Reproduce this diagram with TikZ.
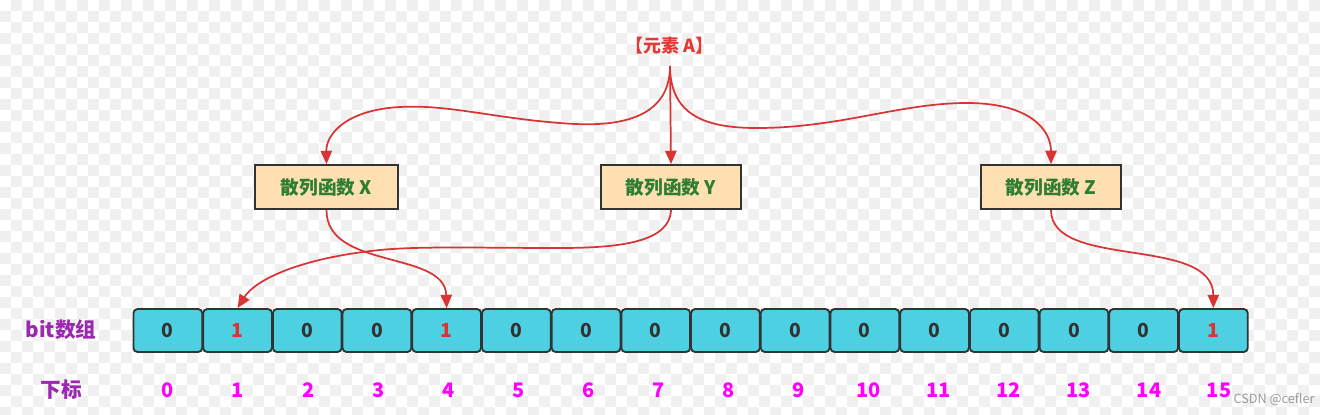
\documentclass[tikz,border=0pt]{standalone}
\usepackage{fontspec}
\setmainfont{Noto Sans CJK SC}
\usetikzlibrary{arrows.meta}
\definecolor{arr}{HTML}{D93434}
\definecolor{chk}{HTML}{F0F0F0}
\definecolor{bord}{HTML}{333333}
\definecolor{hashfill}{HTML}{FFE0B2}
\definecolor{hashtxt}{HTML}{2E7D32}
\definecolor{cellfill}{HTML}{4DD0E1}
\definecolor{lblpurple}{HTML}{9C27B0}
\definecolor{idxmag}{HTML}{FF00FF}
\definecolor{elemred}{HTML}{E53935}
\definecolor{wm}{HTML}{9A9A9A}
\tikzset{
  hashbox/.style={draw=bord, line width=1.4pt, fill=hashfill, text=hashtxt,
    font=\fontsize{14}{16}\selectfont\bfseries, minimum height=33pt, inner sep=0pt},
  cellbox/.style={draw=bord, line width=1.4pt, fill=cellfill, rounded corners=3pt,
    minimum width=51.6pt, minimum height=32.2pt, inner sep=0pt,
    font=\fontsize{14.5}{16}\selectfont\bfseries, text=bord},
  onebit/.style={text=arr},
  idxlbl/.style={text=idxmag, font=\fontsize{15}{17}\selectfont\bfseries},
  rowlbl/.style={text=lblpurple, font=\fontsize{15.5}{17}\selectfont\bfseries},
  link/.style={draw=arr, line width=1.3pt, -{Triangle[length=10pt,width=8.5pt]}}
}
\begin{document}
\begin{tikzpicture}[x=0.75pt,y=-0.75pt]
\useasboundingbox (0,0) rectangle (1326,414);
\fill[white] (0,0) rectangle (1326,414);
\foreach \j in {0,2,...,36}{
  \foreach \i in {1,3,...,119}{
    \fill[chk] (\i*11,\j*11) rectangle ++(11,11);
    \fill[chk] (\i*11-11,\j*11+11) rectangle ++(11,11);
  }
}
% element
\node[text=elemred, font=\fontsize{13.5}{15}\selectfont\bfseries] (A) at (669,46) {【元素 A】};
\coordinate (a0) at (670,66);
% hash functions
\node[hashbox, minimum width=107.2pt] (X) at (326.5,187) {散列函数 X};
\node[hashbox, minimum width=105pt] (Y) at (671,187) {散列函数 Y};
\node[hashbox, minimum width=105pt] (Z) at (1051,187) {散列函数 Z};
% bit array
\foreach \k/\v in {0/0,1/1,2/0,3/0,4/1,5/0,6/0,7/0,8/0,9/0,10/0,11/0,12/0,13/0,14/0,15/1}{
  \ifnum\v=1
    \node[cellbox, onebit] (c\k) at ({133+69.7*(\k+0.5)},330.5) {\v};
  \else
    \node[cellbox] (c\k) at ({133+69.7*(\k+0.5)},330.5) {\v};
  \fi
  \node[idxlbl] (i\k) at ({168+70.07*\k},390) {\k};
}
\node[rowlbl] (lbit) at (61,330) {bit数组};
\node[rowlbl] (lidx) at (61,390) {下标};
% connectors from element
\draw[link] (a0) -- (Y.north);
\draw[link] (a0) .. controls (670,118) and (620,126) .. (575,124)
  .. controls (500,120) and (450,104) .. (400,107)
  .. controls (345,110) and (326,135) .. (X.north);
\draw[link] (a0) .. controls (670,118) and (710,128) .. (757,128)
  .. controls (840,128) and (900,103) .. (967,103)
  .. controls (1030,103) and (1051,130) .. (Z.north);
% connectors to bits
\draw[link] (X.south) .. controls (326,270) and (445,250) .. (c4.north);
\draw[link] (Y.south) .. controls (670,242) and (620,248) .. (560,248)
  .. controls (480,248) and (420,246) .. (380,250)
  .. controls (300,258) and (255,280) .. (c1.north);
\draw[link] (Z.south) .. controls (1051,270) and (1213,235) .. (c15.north);
% watermark
\node[text=wm, font=\fontsize{9.5}{10}\selectfont] (wmark) at (1274,399) {CSDN @cefler};
\end{tikzpicture}
\end{document}
